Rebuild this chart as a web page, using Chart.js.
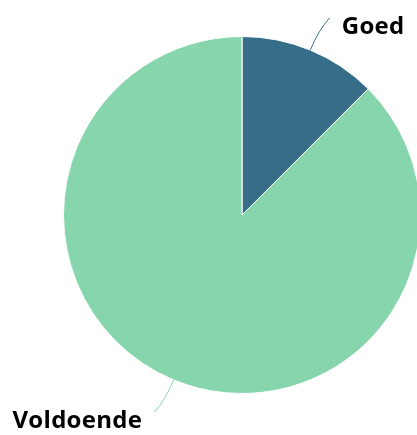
<!DOCTYPE html>
<html>
<head>
<meta charset="utf-8">
<script src="https://cdn.jsdelivr.net/npm/chart.js@4"></script>
<style>
  html, body { margin: 0; padding: 0; background: #fff; overflow: hidden; }
  #wrap { width: 484px; height: 435px; }
</style>
</head>
<body>
<div id="wrap"><canvas id="pieChart"></canvas></div>
<script>
const labels = ['Goed', 'Voldoende'];
const values = [1, 7];
const colors = ['#366e8a', '#86d5ad'];

// draws the connector lines and labels next to each slice
const sliceLabels = {
  id: 'sliceLabels',
  afterDatasetsDraw(chart) {
    const ctx = chart.ctx;
    const meta = chart.getDatasetMeta(0);
    meta.data.forEach((arc, i) => {
      const p = arc.getProps(['x', 'y', 'startAngle', 'endAngle', 'outerRadius'], true);
      const mid = (p.startAngle + p.endAngle) / 2;
      const dx = Math.cos(mid), dy = Math.sin(mid);
      const side = dx >= 0 ? 1 : -1;
      const x0 = p.x + dx * p.outerRadius, y0 = p.y + dy * p.outerRadius;
      const cx = x0 + dx * 22, cy = y0 + dy * 22;
      const x1 = x0 + dx * 35 + side * 6, y1 = y0 + dy * 35;
      ctx.save();
      ctx.strokeStyle = colors[i];
      ctx.lineWidth = 1;
      ctx.beginPath();
      ctx.moveTo(x0, y0);
      ctx.quadraticCurveTo(cx, cy, x1, y1);
      ctx.stroke();
      ctx.fillStyle = '#000';
      ctx.font = 'bold 24px "Open Sans"';
      ctx.letterSpacing = '0.3px';
      ctx.textAlign = side > 0 ? 'left' : 'right';
      ctx.textBaseline = 'alphabetic';
      ctx.fillText(labels[i], x1 + side * 12, y1 + 16);
      ctx.restore();
    });
  }
};

new Chart(document.getElementById('pieChart'), {
  type: 'pie',
  data: {
    labels: labels,
    datasets: [{
      data: values,
      backgroundColor: colors,
      borderColor: '#fff',
      borderWidth: 1
    }]
  },
  options: {
    responsive: true,
    maintainAspectRatio: false,
    animation: false,
    layout: { padding: { left: 63, right: 63, top: 36, bottom: 41 } },
    plugins: {
      legend: { display: false },
      tooltip: { enabled: false }
    }
  },
  plugins: [sliceLabels]
});
</script>
</body>
</html>
